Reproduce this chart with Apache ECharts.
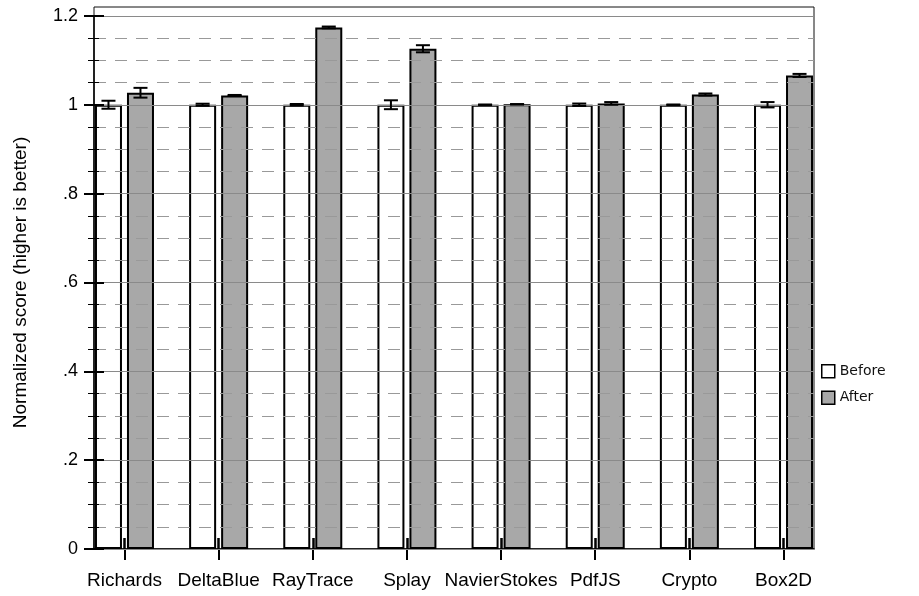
<!DOCTYPE html>
<html>
<head>
<meta charset="utf-8">
<title>Normalized benchmark scores</title>
<script src="https://cdn.jsdelivr.net/npm/echarts@6/dist/echarts.min.js"></script>
<style>
  html, body { margin: 0; padding: 0; background: #fff; }
  #chart { width: 919px; height: 596px; }
</style>
</head>
<body>
<div id="chart"></div>
<script>
// Benchmarks and normalized scores (higher is better)
const categories = ['Richards', 'DeltaBlue', 'RayTrace', 'Splay', 'NavierStokes', 'PdfJS', 'Crypto', 'Box2D'];
const beforeScores = [1, 1, 1, 1, 1, 1, 1, 1];
const beforeErrors = [0.009, 0.0023, 0.0016, 0.010, 0.0005, 0.0027, 0.0005, 0.006];
const afterScores = [1.027, 1.021, 1.174, 1.126, 1.001, 1.003, 1.023, 1.066];
const afterErrors = [0.011, 0.001, 0.002, 0.008, 0.0005, 0.003, 0.0023, 0.0034];
const yTickLabels = { 0: '0', 0.2: '.2', 0.4: '.4', 0.6: '.6', 0.8: '.8', 1: '1', 1.2: '1.2' };

const BAR_W = 27;         // inner bar width in px
const BAR_GAP_PX = 5;     // gap between the two bars of a group
const HALF_STEP = (BAR_W + BAR_GAP_PX) / 2;
const CAP_W = 14;

const chart = echarts.init(document.getElementById('chart'), null, { renderer: 'canvas' });

function errorBarRenderer(shift) {
  return function (params, api) {
    const i = api.value(0), v = api.value(1), e = api.value(2);
    const mid = api.coord([i, v]);
    const x = mid[0] + shift;
    const yHi = api.coord([i, v + e])[1];
    const yLo = api.coord([i, v - e])[1];
    const st = { stroke: '#000', lineWidth: 2 };
    return {
      type: 'group',
      children: [
        { type: 'line', shape: { x1: x, y1: yHi, x2: x, y2: yLo }, style: st },
        { type: 'line', shape: { x1: x - CAP_W / 2, y1: yHi, x2: x + CAP_W / 2, y2: yHi }, style: st },
        { type: 'line', shape: { x1: x - CAP_W / 2, y1: yLo, x2: x + CAP_W / 2, y2: yLo }, style: st }
      ]
    };
  };
}

const fontMain = '"Liberation Sans", Arial, Helvetica, sans-serif';

const option = {
  animation: false,
  backgroundColor: '#fff',
  grid: [
    // bars
    { left: 77.4, width: 753.2, top: 7, bottom: 47, show: false },
    // plot frame
    { left: 94, width: 720, top: 7, bottom: 47, show: true, borderColor: '#111', borderWidth: 1, backgroundColor: 'transparent' },
    // ticks, labels and gridlines
    { left: 94, width: 720, top: 16, bottom: 47, show: false }
  ],
  xAxis: [
    {
      gridIndex: 0, type: 'category', data: categories, position: 'bottom',
      axisLine: { show: false },
      axisTick: { show: true, alignWithLabel: true, interval: 0, length: 11, inside: false, lineStyle: { color: '#000', width: 2 } },
      axisLabel: { interval: 0, margin: 22, color: '#000', fontSize: 19, fontFamily: fontMain },
      splitLine: { show: false }
    },
    {
      gridIndex: 0, type: 'category', data: categories, position: 'bottom',
      axisLine: { show: false },
      axisTick: { show: true, alignWithLabel: true, interval: 0, length: 11, inside: true, lineStyle: { color: '#000', width: 2.5 } },
      axisLabel: { show: false },
      splitLine: { show: false }, z: 4
    },
    { gridIndex: 1, type: 'value', show: false },
    {
      gridIndex: 2, type: 'value', min: 0, max: 1,
      axisLine: { show: true, lineStyle: { color: '#000', width: 1.5 } },
      axisTick: { show: false }, axisLabel: { show: false }, splitLine: { show: false }
    }
  ],
  yAxis: [
    { gridIndex: 0, type: 'value', min: 0, max: 1.22, show: false },
    { gridIndex: 1, type: 'value', show: false },
    {
      gridIndex: 2, type: 'value', min: 0, max: 1.2, interval: 0.2, position: 'left', z: 3,
      name: 'Normalized score (higher is better)',
      nameLocation: 'middle', nameGap: 64,
      nameTextStyle: { fontSize: 19, color: '#000', fontFamily: fontMain },
      axisLine: { show: true, lineStyle: { color: '#000', width: 1.5 } },
      axisTick: { show: true, length: 10, inside: false, lineStyle: { color: '#000', width: 2 } },
      minorTick: { show: true, splitNumber: 4, length: 6, lineStyle: { color: '#000', width: 1 } },
      axisLabel: {
        margin: 16, color: '#000', fontSize: 18, fontFamily: fontMain,
        formatter: function (v) { const k = Math.round(v * 10) / 10; return yTickLabels[k] !== undefined ? yTickLabels[k] : ''; }
      },
      splitLine: { show: true, lineStyle: { color: '#8a8a8a', width: 1 } },
      minorSplitLine: { show: true, lineStyle: { color: '#999', width: 1, type: [12, 9] } }
    },
    {
      gridIndex: 2, type: 'value', min: 0, max: 1.2, interval: 0.2, position: 'left', z: 3,
      axisLine: { show: false },
      axisTick: { show: true, length: 10, inside: true, lineStyle: { color: '#000', width: 2 } },
      minorTick: { show: true, splitNumber: 4, length: 5, lineStyle: { color: '#000', width: 1 } },
      axisLabel: { show: false },
      splitLine: { show: false }
    }
  ],
  legend: {
    orient: 'vertical', left: 821, top: 364, itemWidth: 13, itemHeight: 13, itemGap: 12, padding: 0,
    icon: 'rect',
    textStyle: { fontSize: 14, color: '#111', fontFamily: '"DejaVu Sans", Verdana, sans-serif' },
    data: [
      { name: 'Before', itemStyle: { color: '#fff', borderColor: '#000', borderWidth: 1.5 } },
      { name: 'After', itemStyle: { color: '#a8a8a8', borderColor: '#000', borderWidth: 1.5 } }
    ]
  },
  series: [
    {
      name: 'Before', type: 'bar', xAxisIndex: 0, yAxisIndex: 0,
      data: beforeScores, barWidth: BAR_W, barGap: (BAR_GAP_PX / BAR_W * 100).toFixed(2) + '%',
      itemStyle: { color: '#fff', borderColor: '#000', borderWidth: 2 }, z: 2
    },
    {
      name: 'After', type: 'bar', xAxisIndex: 0, yAxisIndex: 0,
      data: afterScores, barWidth: BAR_W,
      itemStyle: { color: '#a8a8a8', borderColor: '#000', borderWidth: 2 }, z: 2
    },
    {
      name: 'BeforeErr', type: 'custom', xAxisIndex: 0, yAxisIndex: 0, z: 5,
      renderItem: errorBarRenderer(-HALF_STEP),
      encode: { x: 0, y: 1 },
      data: beforeScores.map((v, i) => [i, v, beforeErrors[i]])
    },
    {
      name: 'AfterErr', type: 'custom', xAxisIndex: 0, yAxisIndex: 0, z: 5,
      renderItem: errorBarRenderer(HALF_STEP),
      encode: { x: 0, y: 1 },
      data: afterScores.map((v, i) => [i, v, afterErrors[i]])
    }
  ]
};

chart.setOption(option);
</script>
</body>
</html>
